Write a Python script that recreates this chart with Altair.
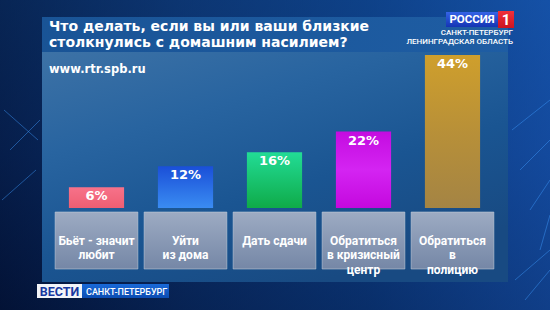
import altair as alt
import pandas as pd

# ---------------- data ----------------
categories = [
    "Бьёт - значит\nлюбит",
    "Уйти\nиз дома",
    "Дать сдачи",
    "Обратиться\nв кризисный\nцентр",
    "Обратиться\nв\nполицию",
]
values = [6, 12, 16, 22, 44]
value_labels = ["6%", "12%", "16%", "22%", "44%"]

title_text = "Что делать, если вы или ваши близкие\nстолкнулись с домашним насилием?"
site_text = "www.rtr.spb.ru"
logo_name = "РОССИЯ"
logo_num = "1"
logo_line1 = "САНКТ-ПЕТЕРБУРГ"
logo_line2 = "ЛЕНИНГРАДСКАЯ ОБЛАСТЬ"
bottom_brand = "ВЕСТИ"
bottom_city = "САНКТ-ПЕТЕРБУРГ"

# ---------------- styles ----------------
bar_styles = [
    ["#f7728a", "#ee5e72"],
    ["#1a4fd8", "#3a8cf2"],
    ["#22dc96", "#0faa48"],
    ["#c40ce0", "#d424f2", "#c408de"],
    ["#cf9f2c", "#b89038", "#a48444"],
]


def vgrad(colors, x2=0, y2=1):
    n = len(colors)
    return alt.LinearGradient(
        gradient="linear",
        x1=0, y1=0, x2=x2, y2=y2,
        stops=[alt.GradientStop(offset=i / (n - 1), color=c) for i, c in enumerate(colors)],
    )


df = pd.DataFrame({"cat": categories, "value": values, "label": value_labels})
one = pd.DataFrame({"k": [0]})

L, T = 52, 55  # plot origin in page pixels


def px(v):
    return alt.value(v - L)


def py(v):
    return alt.value(v - T)


X = alt.X("cat:N", sort=categories,
          scale=alt.Scale(domain=categories, paddingInner=0, paddingOuter=0), axis=None)
Y = alt.Y("value:Q", scale=alt.Scale(domain=[0, 44], nice=False, zero=True), axis=None)

layers = []

# background
layers.append(alt.Chart(one).mark_rect(
    fill=vgrad(["#0f4488", "#0b3372", "#041a44"])).encode(
    x=px(0), x2=px(550), y=py(0), y2=py(310)))
layers.append(alt.Chart(one).mark_rect(
    fill=vgrad(["#020c2a", "#0a2a60", "#0d3f88", "#1a5cc0"], x2=1, y2=0), opacity=0.55).encode(
    x=px(0), x2=px(550), y=py(0), y2=py(310)))

# tech lines on the sides
line_x1 = [512, 520, 530, 540, 515, 525, 4, 10, 2]
line_y1 = [130, 170, 210, 250, 280, 300, 110, 150, 200]
line_x2 = [550, 550, 550, 550, 550, 550, 38, 40, 36]
line_y2 = [100, 140, 180, 215, 250, 270, 140, 120, 170]
for a, b, c, d in zip(line_x1, line_y1, line_x2, line_y2):
    layers.append(alt.Chart(one).mark_rule(color="#3d9bff", strokeWidth=1, opacity=0.45).encode(
        x=px(a), y=py(b), x2=px(c), y2=py(d)))

# title band and panel
layers.append(alt.Chart(one).mark_rect(
    fill=vgrad(["#1a5699", "#1f5ea4"], x2=1, y2=0), opacity=0.95).encode(
    x=px(42), x2=px(508), y=py(17), y2=py(52)))
layers.append(alt.Chart(one).mark_rect(
    fill=vgrad(["#3d72a6", "#2864a0", "#1a5592", "#184a82"], x2=0.6, y2=1)).encode(
    x=px(42), x2=px(508), y=py(52), y2=py(282)))

# bars
for c, st in zip(categories, bar_styles):
    layers.append(alt.Chart(df).transform_filter(
        alt.FieldEqualPredicate(field="cat", equal=c)).mark_bar(
        width={"band": 0.62}, color=vgrad(st)).encode(x=X, y=Y))

# value labels
layers.append(alt.Chart(df).mark_text(
    baseline="top", dy=3, font="DejaVu Sans", fontWeight="bold", fontSize=13,
    color="#ffffff").encode(x=X, y=Y, text="label:N"))

# label boxes
layers.append(alt.Chart(df).mark_bar(
    width={"band": 0.93}, fill=vgrad(["#9dabc3", "#7587a6"]),
    stroke="#c5cfdd", strokeWidth=1, strokeOpacity=0.55).encode(
    x=X, y=py(212), y2=py(269)))
layers.append(alt.Chart(df).mark_text(
    lineBreak="\n", baseline="middle", font="Roboto", fontWeight="bold", fontSize=12,
    lineHeight=14.5, color="#ffffff").encode(
    x=X, y=py(240.5), text="cat:N"))

# title and site
layers.append(alt.Chart(one).mark_text(
    align="left", baseline="alphabetic", lineBreak="\n", font="DejaVu Sans",
    fontWeight="bold", fontSize=14, lineHeight=16, color="#ffffff").encode(
    x=px(49), y=py(31), text=alt.value(title_text)))
layers.append(alt.Chart(one).mark_text(
    align="left", baseline="alphabetic", font="DejaVu Sans", fontWeight="bold",
    fontSize=11.5, color="#ffffff").encode(
    x=px(49), y=py(73), text=alt.value(site_text)))

# channel logo
layers.append(alt.Chart(one).mark_rect(fill=vgrad(["#3564e6", "#1434b4"])).encode(
    x=px(446), x2=px(498), y=py(12), y2=py(27)))
layers.append(alt.Chart(one).mark_rect(fill=vgrad(["#f0303a", "#cc1420"])).encode(
    x=px(498), x2=px(514), y=py(11), y2=py(28)))
layers.append(alt.Chart(one).mark_text(
    align="center", baseline="middle", font="Roboto", fontWeight="bold", fontSize=11.5,
    color="#ffffff").encode(x=px(472), y=py(20), text=alt.value(logo_name)))
layers.append(alt.Chart(one).mark_text(
    align="center", baseline="middle", font="Roboto", fontWeight="bold", fontSize=15,
    color="#ffffff").encode(x=px(506), y=py(20), text=alt.value(logo_num)))
layers.append(alt.Chart(one).mark_text(
    align="right", baseline="alphabetic", font="Roboto", fontWeight=500, fontSize=8,
    color="#ffffff").encode(x=px(513), y=py(34.5), text=alt.value(logo_line1)))
layers.append(alt.Chart(one).mark_text(
    align="right", baseline="alphabetic", font="Roboto", fontWeight=500, fontSize=8,
    color="#ffffff").encode(x=px(513), y=py(44), text=alt.value(logo_line2)))

# bottom brand
layers.append(alt.Chart(one).mark_rect(fill="#f2f4f8").encode(
    x=px(37), x2=px(82), y=py(284), y2=py(298)))
layers.append(alt.Chart(one).mark_rect(fill=vgrad(["#1a6ad8", "#0b4cb2"])).encode(
    x=px(82), x2=px(169), y=py(284), y2=py(298)))
layers.append(alt.Chart(one).mark_text(
    align="center", baseline="middle", font="Roboto", fontWeight="bold", fontSize=12.5,
    color="#1838a0").encode(x=px(59.5), y=py(291.5), text=alt.value(bottom_brand)))
layers.append(alt.Chart(one).mark_text(
    align="left", baseline="middle", font="Roboto", fontWeight=500, fontSize=9,
    color="#ffffff").encode(x=px(86), y=py(291.5), text=alt.value(bottom_city)))

chart = alt.layer(*layers).properties(
    width=445, height=153,
    padding={"left": L, "top": T, "right": 550 - L - 445, "bottom": 310 - T - 153},
    autosize=alt.AutoSizeParams(type="none"),
    background="#0a2c60",
).configure_view(strokeWidth=0)

chart.save("out.html", embed_options={"renderer": "svg", "actions": False})
